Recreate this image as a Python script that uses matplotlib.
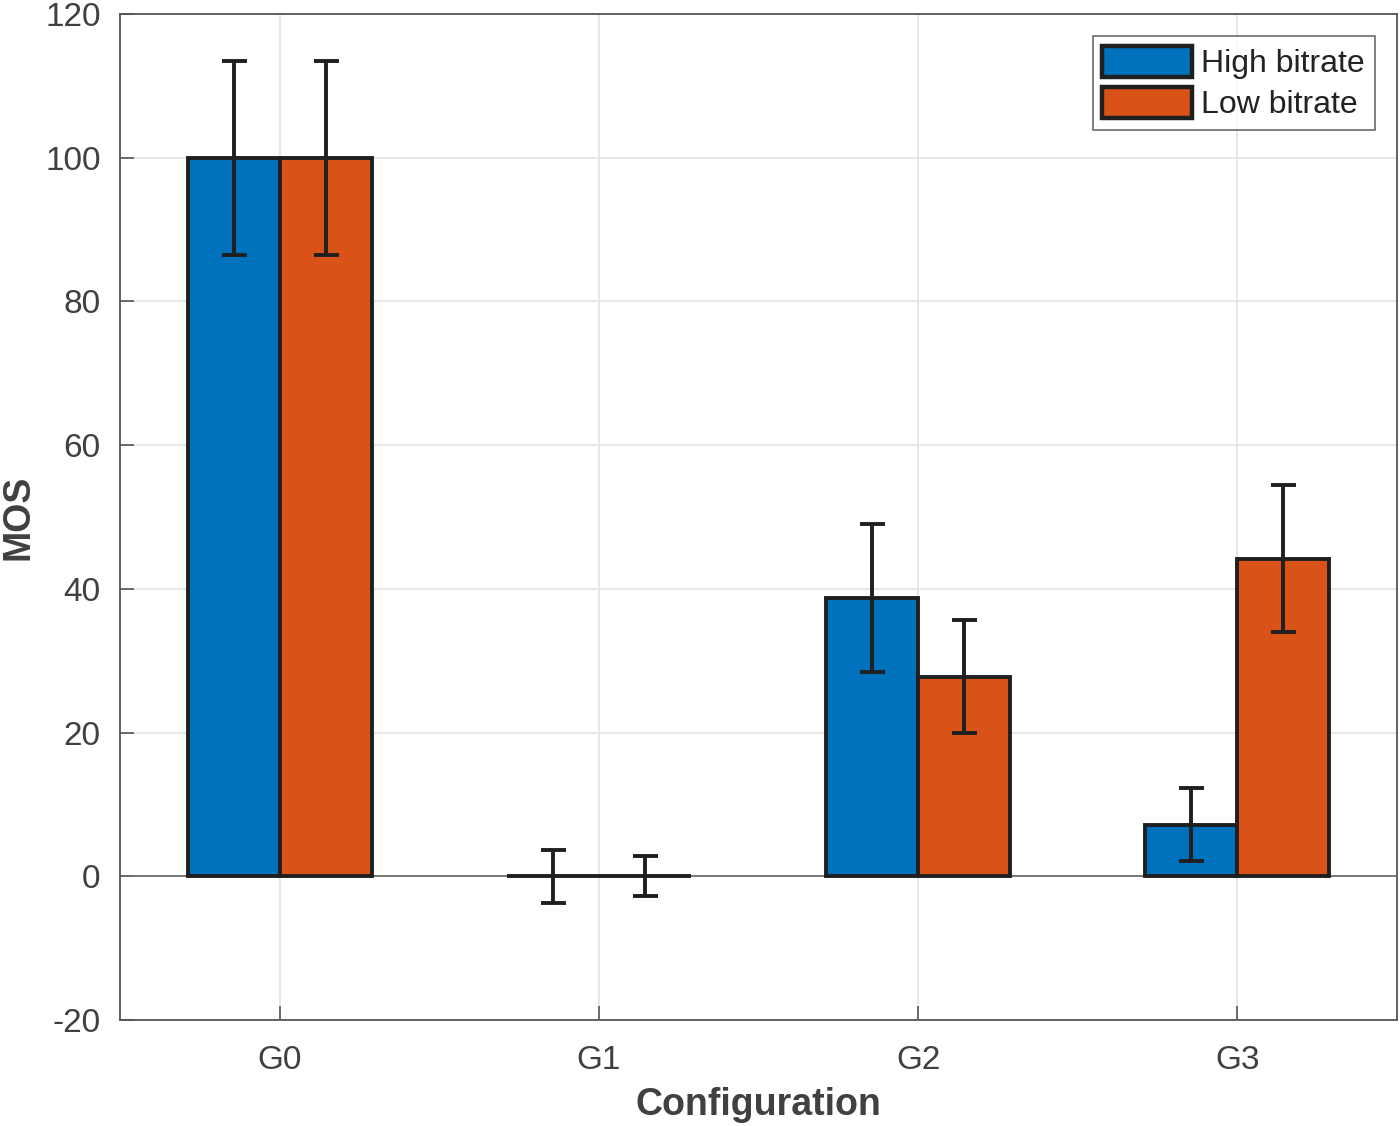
import matplotlib
matplotlib.use("Agg")
import matplotlib.pyplot as plt
import numpy as np

plt.rcParams['font.family'] = ['Liberation Sans', 'DejaVu Sans']
plt.rcParams['axes.unicode_minus'] = False

categories = ['G0', 'G1', 'G2', 'G3']
high_mean = [100.0, 0.0, 38.7, 7.2]
high_err = [13.5, 3.7, 10.3, 5.1]
low_mean = [100.0, 0.0, 27.8, 44.2]
low_err = [13.5, 2.8, 7.8, 10.2]
series_names = ['High bitrate', 'Low bitrate']
yticks = [-20, 0, 20, 40, 60, 80, 100, 120]

fig = plt.figure(figsize=(14, 11.26), dpi=100)
ax = fig.add_axes([120/1400, 1-1020/1126, (1397-120)/1400, (1020-14)/1126])

x = np.arange(1, len(categories)+1)
w = 0.288
edge = '#1f1f1f'
tc = '#404040'

ax.axhline(0, color='#6e6e6e', lw=1.3, zorder=2)
b1 = ax.bar(x - w/2, high_mean, w, color='#0072BD', edgecolor=edge, linewidth=2.8, label=series_names[0], zorder=3)
b2 = ax.bar(x + w/2, low_mean, w, color='#D95319', edgecolor=edge, linewidth=2.8, label=series_names[1], zorder=3)
ax.errorbar(x - w/2, high_mean, yerr=high_err, fmt='none', ecolor=edge, elinewidth=2.8, capsize=9, capthick=2.8, zorder=4)
ax.errorbar(x + w/2, low_mean, yerr=low_err, fmt='none', ecolor=edge, elinewidth=2.8, capsize=9, capthick=2.8, zorder=4)

ax.set_xlim(0.5, 4.5)
ax.set_ylim(-20, 120)
ax.set_xticks(x)
ax.set_xticklabels(categories)
ax.set_yticks(yticks)
ax.grid(True, color='#e3e3e3', lw=1.2, zorder=0)
ax.set_axisbelow(True)
ax.tick_params(direction='in', length=10, width=1.2, colors='#555555', labelcolor=tc, labelsize=24, pad=14)
ax.tick_params(axis='x', pad=18)
for s in ax.spines.values():
    s.set_color('#555555')
    s.set_linewidth(1.3)

ax.set_xlabel('Configuration', fontsize=27, fontweight='bold', color=tc, labelpad=8)
ax.set_ylabel('MOS', fontsize=27, fontweight='bold', color=tc, labelpad=6)

leg = ax.legend(loc='upper right', fontsize=23, frameon=True, fancybox=False,
                edgecolor='#555555', handlelength=2.8, handleheight=1.1, handletextpad=0.3,
                borderpad=0.3, labelspacing=0.25, borderaxespad=0.7)
leg.get_frame().set_linewidth(1.3)
for h in leg.legend_handles:
    h.set_linewidth(3.2)
for t in leg.get_texts():
    t.set_color('#222222')

fig.savefig('out.png', dpi=100)
